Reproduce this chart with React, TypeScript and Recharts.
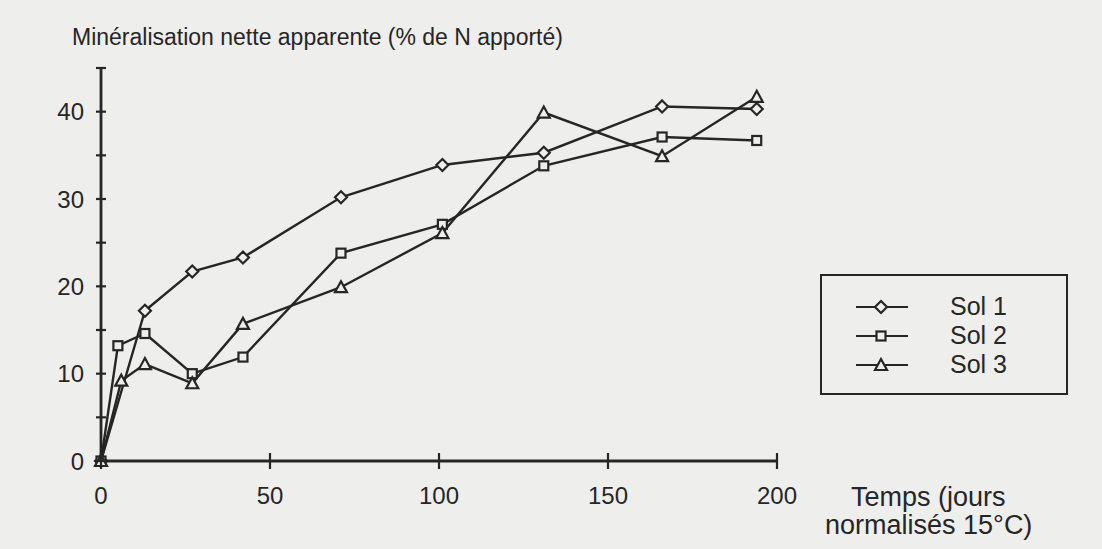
import { LineChart, Line, XAxis, YAxis, Legend, Label } from "recharts";

// Temps (jours normalisés 15°C) et minéralisation (% de N apporté)
const SOL1_DAYS = [0, 13, 27, 42, 71, 101, 131, 166, 194];
const SOL1_MIN = [0, 17.2, 21.7, 23.3, 30.2, 33.9, 35.3, 40.6, 40.3];

const SOL2_DAYS = [0, 5, 13, 27, 42, 71, 101, 131, 166, 194];
const SOL2_MIN = [0, 13.2, 14.6, 10.0, 11.9, 23.8, 27.1, 33.8, 37.1, 36.7];

const SOL3_DAYS = [0, 6, 13, 27, 42, 71, 101, 131, 166, 194];
const SOL3_MIN = [0, 9.2, 11.1, 8.9, 15.7, 19.9, 26.1, 39.9, 34.9, 41.7];

const X_TICKS = [0, 50, 100, 150, 200];
const Y_TICKS = [0, 5, 10, 15, 20, 25, 30, 35, 40, 45];
const Y_LABELS = [0, 10, 20, 30, 40];

const INK = "#262626";
const PAPER = "#eeeeec";
const FONT = "'Liberation Sans', Arial, sans-serif";

type Shape = "diamond" | "square" | "triangle";

const toPoints = (xs: number[], ys: number[]) => xs.map((x, i) => ({ x, y: ys[i] }));

const SERIES: { name: string; shape: Shape; data: { x: number; y: number }[] }[] = [
  { name: "Sol 1", shape: "diamond", data: toPoints(SOL1_DAYS, SOL1_MIN) },
  { name: "Sol 2", shape: "square", data: toPoints(SOL2_DAYS, SOL2_MIN) },
  { name: "Sol 3", shape: "triangle", data: toPoints(SOL3_DAYS, SOL3_MIN) },
];

function Marker({ shape, cx, cy }: { shape: Shape; cx: number; cy: number }) {
  const common = { fill: PAPER, stroke: INK, strokeWidth: 2.2 };
  if (shape === "diamond") {
    return <polygon points={`${cx},${cy - 6} ${cx + 6},${cy} ${cx},${cy + 6} ${cx - 6},${cy}`} {...common} />;
  }
  if (shape === "square") {
    return <rect x={cx - 4.5} y={cy - 4.5} width={9} height={9} {...common} />;
  }
  return <polygon points={`${cx},${cy - 6} ${cx + 6},${cy + 5} ${cx - 6},${cy + 5}`} {...common} />;
}

function makeDot(shape: Shape) {
  return (props: any) => {
    const { cx, cy, index } = props;
    if (cx == null || cy == null) return <g key={index} />;
    return <Marker key={index} shape={shape} cx={cx} cy={cy} />;
  };
}

function XTick({ x, y, payload }: any) {
  return (
    <g>
      <line x1={x} x2={x} y1={y - 8} y2={y + 8} stroke={INK} strokeWidth={2.2} />
      <text x={x} y={y + 43} textAnchor="middle" fill={INK} fontSize={24} fontFamily={FONT}>
        {payload.value}
      </text>
    </g>
  );
}

function YTick({ x, y, payload }: any) {
  const shown = Y_LABELS.includes(payload.value);
  return (
    <g>
      <line x1={x - 5} x2={x + 5} y1={y} y2={y} stroke={INK} strokeWidth={2.2} />
      {shown && (
        <text x={x - 17} y={y} dy="0.36em" textAnchor="end" fill={INK} fontSize={24} fontFamily={FONT}>
          {payload.value}
        </text>
      )}
    </g>
  );
}

function LegendBox() {
  return (
    <div
      style={{
        width: 248,
        height: 121,
        boxSizing: "border-box",
        border: `2px solid ${INK}`,
        paddingTop: 16,
        fontFamily: FONT,
        fontSize: 25,
        color: INK,
      }}
    >
      {SERIES.map((s) => (
        <div key={s.name} style={{ display: "flex", alignItems: "center", height: 29 }}>
          <svg width={110} height={20} style={{ marginLeft: 34 }}>
            <line x1={0} x2={52} y1={10} y2={10} stroke={INK} strokeWidth={2.2} />
            <Marker shape={s.shape} cx={25} cy={10} />
          </svg>
          <span style={{ marginLeft: -16 }}>{s.name}</span>
        </div>
      ))}
    </div>
  );
}

export default function App() {
  return (
    <div style={{ position: "absolute", left: 0, top: 0, width: 1102, height: 549, background: PAPER }}>
      <LineChart width={1102} height={549} margin={{ top: 68, right: 325, bottom: 48, left: 41 }}>
        <XAxis
          type="number"
          dataKey="x"
          domain={[0, 200]}
          ticks={X_TICKS}
          height={40}
          tickSize={0}
          tickMargin={0}
          tick={<XTick />}
          axisLine={{ stroke: INK, strokeWidth: 2.8 }}
          tickLine={false}
          allowDuplicatedCategory={false}
        >
          <Label
            content={({ viewBox }: any) => (
              <text fill={INK} fontSize={27} fontFamily={FONT}>
                <tspan x={viewBox.x + viewBox.width + 74} y={viewBox.y + 45}>Temps (jours</tspan>
                <tspan x={viewBox.x + viewBox.width + 48} y={viewBox.y + 73}>normalisés 15°C)</tspan>
              </text>
            )}
          />
        </XAxis>
        <YAxis
          type="number"
          dataKey="y"
          domain={[0, 45]}
          ticks={Y_TICKS}
          width={60}
          tickSize={0}
          tickMargin={0}
          tick={<YTick />}
          axisLine={{ stroke: INK, strokeWidth: 2.8 }}
          tickLine={false}
        >
          <Label
            content={({ viewBox }: any) => (
              <text x={viewBox.x + 31} y={viewBox.y - 23} fill={INK} fontSize={23} fontFamily={FONT}>
                Minéralisation nette apparente (% de N apporté)
              </text>
            )}
          />
        </YAxis>
        <Legend
          layout="vertical"
          align="center"
          verticalAlign="middle"
          content={() => <LegendBox />}
          wrapperStyle={{ left: 820, top: 274, width: 248, height: 121 }}
        />
        {SERIES.map((s) => (
          <Line
            key={s.name}
            name={s.name}
            data={s.data}
            dataKey="y"
            type="linear"
            stroke={INK}
            strokeWidth={2.4}
            dot={makeDot(s.shape)}
            activeDot={false}
            isAnimationActive={false}
          />
        ))}
      </LineChart>
    </div>
  );
}
